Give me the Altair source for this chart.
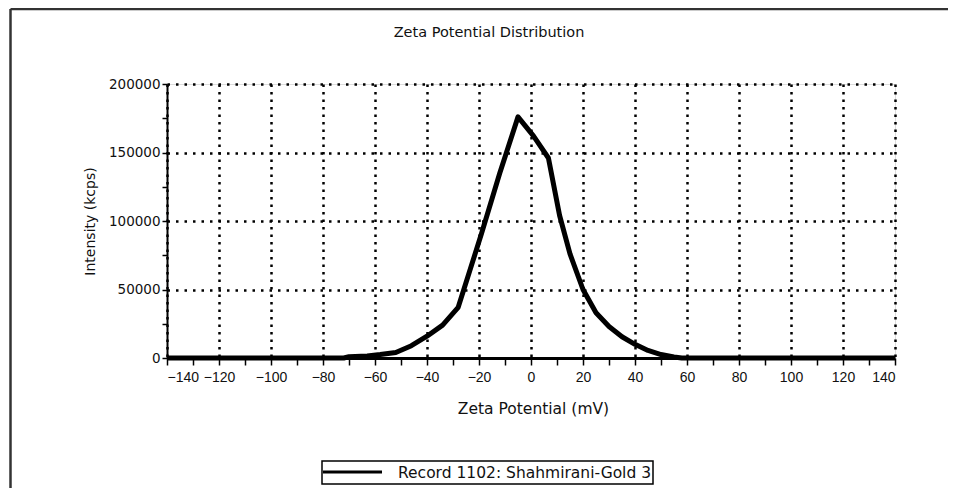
import altair as alt
import pandas as pd

# Zeta potential (mV) and intensity (kcps)
zeta = [-140, -72, -70, -63, -58, -52, -46, -40, -34, -28, -19, -12, -5,
        1, 6.7, 11, 15, 20, 25, 30, 35, 40, 45, 50, 55, 58, 140]
intensity = [0, 0, 1000, 1500, 2500, 4000, 9000, 15900, 24000, 37000, 91000,
             135000, 176000, 162000, 146000, 104000, 76000, 50000, 33000,
             23000, 15500, 10000, 5500, 2500, 800, 0, 0]
series_name = "Record 1102: Shahmirani-Gold 3"
chart_title = "Zeta Potential Distribution"

x_ticks = list(range(-140, 141, 10))
y_ticks = list(range(0, 200001, 25000))

df = pd.DataFrame({"zeta": zeta, "intensity": intensity, "series": series_name})

W, H = 728, 274
PAD_L, PAD_T = 159, 76
TOTAL_W, TOTAL_H = 940, 480

x_axis = alt.Axis(
    values=x_ticks,
    labelExpr="datum.value % 20 === 0 ? datum.label : ''",
    grid=True,
    gridOpacity={"condition": {"test": "datum.value % 20 === 0", "value": 1}, "value": 0},
    gridColor="black", gridDash=[2.5, 5], gridWidth=2.5,
    domainColor="black", domainWidth=3,
    tickColor="black", tickSize=7, tickWidth=1.5,
    labelFont="Liberation Sans", labelFontSize=14, labelColor="#111",
    labelPadding=5,
    title="Zeta Potential (mV)",
    titleFont="DejaVu Sans", titleFontSize=15.5, titleFontWeight="normal",
    titleColor="#111",
    titleX=366, titleY=50, titleBaseline="middle", titleAlign="center",
)

y_axis = alt.Axis(
    values=y_ticks, format="d",
    labelExpr="datum.value % 50000 === 0 ? datum.label : ''",
    grid=True,
    gridOpacity={"condition": {"test": "datum.value % 50000 === 0", "value": 1}, "value": 0},
    gridColor="black", gridDash=[2.5, 6], gridWidth=2.5,
    domainColor="black", domainWidth=2,
    tickColor="black", tickSize=5, tickWidth=1.5,
    labelFont="DejaVu Sans", labelFontSize=13.5, labelColor="#111",
    labelPadding=2,
    title="Intensity (kcps)",
    titleFont="DejaVu Sans", titleFontSize=14, titleFontWeight="normal",
    titleColor="#111",
    titleX=-77, titleY=137, titleBaseline="middle", titleAlign="center",
    titleAngle=270,
)

line = alt.Chart(df).mark_line(strokeWidth=5, strokeJoin="round", color="black").encode(
    x=alt.X("zeta:Q", scale=alt.Scale(domain=[-140, 140], nice=False), axis=x_axis),
    y=alt.Y("intensity:Q", scale=alt.Scale(domain=[0, 200000], nice=False), axis=y_axis),
    order=alt.Order("zeta:Q"),
)

one = alt.Data(values=[{"series": series_name, "title": chart_title}])

frame_left = alt.Chart(one).mark_rule(color="#333", strokeWidth=2.5).encode(
    x=alt.value(-156.5), y=alt.value(-75), y2=alt.value(TOTAL_H - PAD_T)
)
frame_top = alt.Chart(one).mark_rule(color="#333", strokeWidth=2.5).encode(
    x=alt.value(-156.5), x2=alt.value(TOTAL_W - PAD_L), y=alt.value(-75)
)

title_text = alt.Chart(one).mark_text(
    font="DejaVu Sans", fontSize=14.5, color="#111", align="center", baseline="middle"
).encode(x=alt.value(322), y=alt.value(-51), text="title:N")

# legend (box, sample line, label)
legend_box = alt.Chart(one).mark_rect(fill="white", stroke="black", strokeWidth=1.5).encode(
    x=alt.value(155), x2=alt.value(486), y=alt.value(377), y2=alt.value(400)
)
legend_line = alt.Chart(one).mark_rule(color="black", strokeWidth=3).encode(
    x=alt.value(156), x2=alt.value(215), y=alt.value(388)
)
legend_label = alt.Chart(one).mark_text(
    font="DejaVu Sans", fontSize=15.5, color="#111", align="left", baseline="middle"
).encode(x=alt.value(231), y=alt.value(389), text="series:N")

chart = alt.layer(
    frame_left, frame_top, title_text, line, legend_box, legend_line, legend_label
).properties(
    width=W, height=H,
    autosize=alt.AutoSizeParams(type="none"),
    padding={"left": PAD_L, "top": PAD_T,
             "right": TOTAL_W - PAD_L - W, "bottom": TOTAL_H - PAD_T - H},
).configure_view(stroke=None).configure(background="white")

chart.save("out.html", embed_options={"renderer": "svg", "actions": False})
